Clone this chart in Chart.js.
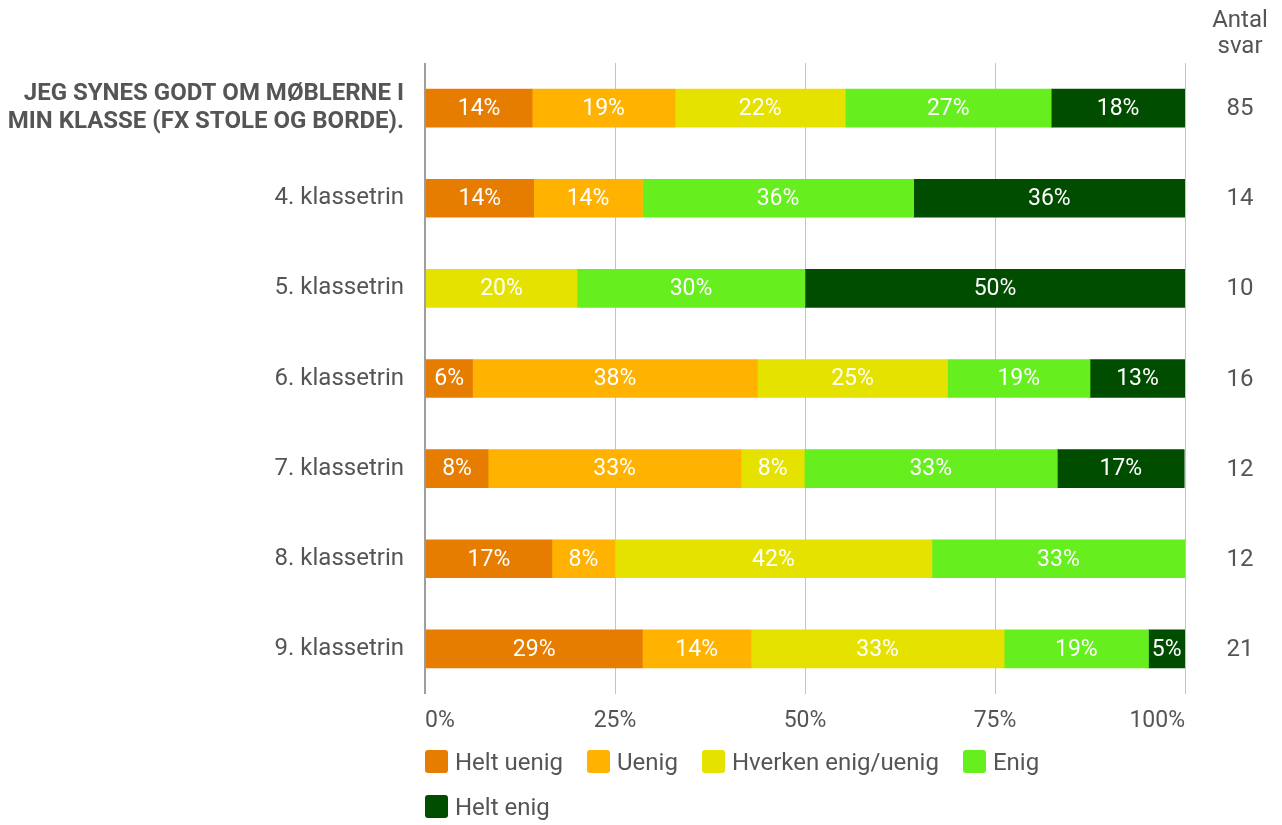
<!DOCTYPE html>
<html>
<head>
<meta charset="utf-8">
<script src="https://cdn.jsdelivr.net/npm/chart.js@4"></script>
<style>
  html, body { margin: 0; padding: 0; background: #fff; }
  #wrap { position: relative; width: 1282px; height: 825px; }
  #legend {
    position: absolute; left: 425px; top: 747px; width: 680px;
    display: flex; flex-wrap: wrap; row-gap: 16px;
    font-family: Roboto, sans-serif; font-size: 24px; color: #555;
  }
  .item { display: flex; align-items: center; margin-right: 24px; height: 29px; }
  .box { width: 23px; height: 23px; border-radius: 3px; margin-right: 7px; }
</style>
</head>
<body>
<div id="wrap">
  <canvas id="chart" width="1282" height="825"></canvas>
  <div id="legend"></div>
</div>
<script>
// categories (rows)
const categories = [
  ["JEG SYNES GODT OM MØBLERNE I", "MIN KLASSE (FX STOLE OG BORDE)."],
  "4. klassetrin",
  "5. klassetrin",
  "6. klassetrin",
  "7. klassetrin",
  "8. klassetrin",
  "9. klassetrin"
];

// answer share per row, in percent
const heltUenig = [14.1, 14.3, 0, 6.25, 8.3, 16.7, 28.6];
const uenig     = [18.8, 14.3, 0, 37.5, 33.3, 8.3, 14.3];
const hverken   = [22.4, 0, 20, 25, 8.3, 41.7, 33.3];
const enig      = [27.1, 35.7, 30, 18.75, 33.3, 33.3, 19.0];
const heltEnig  = [17.6, 35.7, 50, 12.5, 16.7, 0, 4.8];

// number of answers per row
const antalSvar = [85, 14, 10, 16, 12, 12, 21];

const xTicks = [0, 25, 50, 75, 100];

const seriesNames = ["Helt uenig", "Uenig", "Hverken enig/uenig", "Enig", "Helt enig"];
const seriesColors = ["#e67c00", "#ffb300", "#e6e200", "#66ee1f", "#004d00"];
const seriesData = [heltUenig, uenig, hverken, enig, heltEnig];

const FONT = "Roboto, sans-serif";
const TEXT = "#555";

// percentage labels inside the bars
const barLabels = {
  id: "barLabels",
  afterDatasetsDraw(chart){
    const ctx = chart.ctx;
    ctx.save();
    ctx.font = "23px " + FONT;
    ctx.fillStyle = "#fff";
    ctx.textAlign = "center";
    ctx.textBaseline = "middle";
    chart.data.datasets.forEach((ds, i) => {
      const meta = chart.getDatasetMeta(i);
      meta.data.forEach((bar, j) => {
        const v = ds.data[j];
        if(!v) return;
        const cx = (bar.x + bar.base) / 2;
        ctx.fillText(Math.round(v) + "%", cx, bar.y + 1);
      });
    });
    ctx.restore();
  }
};

// "Antal svar" column on the right
const countColumn = {
  id: "countColumn",
  afterDraw(chart){
    const ctx = chart.ctx;
    const y = chart.scales.y;
    const cx = 1240;
    ctx.save();
    ctx.font = "24px " + FONT;
    ctx.fillStyle = TEXT;
    ctx.textAlign = "center";
    ctx.textBaseline = "middle";
    ctx.fillText("Antal", cx, 21);
    ctx.fillText("svar", cx, 47);
    antalSvar.forEach((n, i) => {
      ctx.fillText(String(n), cx, y.getPixelForValue(i) + 1);
    });
    ctx.restore();
  }
};

new Chart(document.getElementById("chart"), {
  type: "bar",
  data: {
    labels: categories,
    datasets: seriesNames.map((name, i) => ({
      label: name,
      data: seriesData[i],
      backgroundColor: seriesColors[i],
      borderWidth: 0,
      barThickness: 38
    }))
  },
  options: {
    indexAxis: "y",
    responsive: false,
    animation: false,
    layout: { padding: { top: 63, right: 97, bottom: 91, left: 0 } },
    plugins: {
      legend: { display: false },
      tooltip: { enabled: false }
    },
    scales: {
      x: {
        stacked: true,
        min: 0,
        max: 100,
        afterBuildTicks(scale){
          scale.ticks = xTicks.map(v => ({ value: v }));
        },
        afterFit(scale){ scale.height = 40; },
        grid: {
          color: ctx => ctx.tick && ctx.tick.value === 0 ? "#9e9e9e" : "#c4c4c4",
          lineWidth: ctx => ctx.tick && ctx.tick.value === 0 ? 2 : 1,
          drawTicks: false
        },
        border: { display: false },
        ticks: {
          padding: 13,
          align: "inner",
          color: TEXT,
          font: { family: FONT, size: 23 },
          callback: v => v + "%",
          maxRotation: 0
        }
      },
      y: {
        stacked: true,
        afterFit(scale){ scale.width = 425; },
        grid: { display: false, drawTicks: false },
        border: { display: false },
        ticks: {
          padding: 21,
          color: TEXT,
          font: ctx => ctx.index === 0
            ? { family: FONT, size: 24, weight: "bold", lineHeight: 1.17 }
            : { family: FONT, size: 24 }
        }
      }
    }
  },
  plugins: [barLabels, countColumn]
});

// legend
const legend = document.getElementById("legend");
seriesNames.forEach((name, i) => {
  const item = document.createElement("div");
  item.className = "item";
  item.innerHTML = '<span class="box" style="background:' + seriesColors[i] + '"></span><span>' + name + '</span>';
  legend.appendChild(item);
});
</script>
</body>
</html>
